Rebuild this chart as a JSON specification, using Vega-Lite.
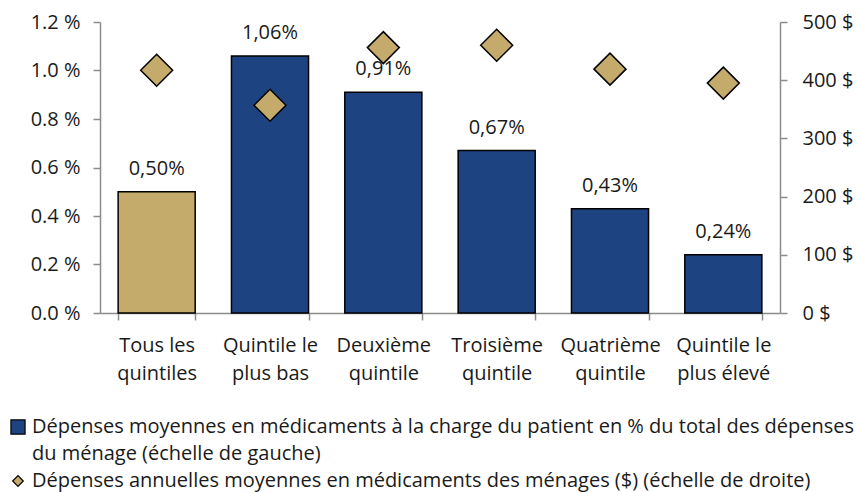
{
  "$schema": "https://vega.github.io/schema/vega-lite/v6.json",
  "autosize": "none",
  "width": 680,
  "height": 291,
  "padding": {"left": 100, "top": 22, "right": 77, "bottom": 179},
  "background": "white",
  "data": {
    "values": [
      {"categorie": "Tous les quintiles", "pct": 0.50, "dollars": 417},
      {"categorie": "Quintile le plus bas", "pct": 1.06, "dollars": 357},
      {"categorie": "Deuxième quintile", "pct": 0.91, "dollars": 456},
      {"categorie": "Troisième quintile", "pct": 0.67, "dollars": 460},
      {"categorie": "Quatrième quintile", "pct": 0.43, "dollars": 419},
      {"categorie": "Quintile le plus élevé", "pct": 0.24, "dollars": 395}
    ]
  },
  "encoding": {
    "x": {
      "field": "categorie",
      "type": "nominal",
      "sort": null,
      "scale": {"paddingInner": 0.32, "paddingOuter": 0.16},
      "axis": {
        "title": null,
        "labelAngle": 0,
        "tickBand": "extent",
        "labelPadding": 15,
        "labelLineHeight": 28,
        "labelBaseline": "top",
        "labelExpr": "datum.label == 'Tous les quintiles' ? ['Tous les', 'quintiles'] : datum.label == 'Quintile le plus bas' ? ['Quintile le', 'plus bas'] : datum.label == 'Deuxième quintile' ? ['Deuxième', 'quintile'] : datum.label == 'Troisième quintile' ? ['Troisième', 'quintile'] : datum.label == 'Quatrième quintile' ? ['Quatrième', 'quintile'] : datum.label == 'Quintile le plus élevé' ? ['Quintile le', 'plus élevé'] : ''"
      }
    }
  },
  "layer": [
    {
      "encoding": {
        "y": {
          "field": "pct",
          "type": "quantitative",
          "scale": {"domain": [0, 1.2], "nice": false},
          "axis": {
            "title": null,
            "values": [0, 0.2, 0.4, 0.6, 0.8, 1.0, 1.2],
            "labelExpr": "format(datum.value, '.1f') + ' %'",
            "labelPadding": 13
          }
        }
      },
      "layer": [
        {
          "mark": {"type": "bar", "stroke": "black", "strokeWidth": 1.5},
          "encoding": {
            "color": {
              "condition": {"test": "datum.categorie == 'Tous les quintiles'", "value": "#c4aa6b"},
              "datum": "Dépenses moyennes en médicaments à la charge du patient en % du total des dépenses du ménage (échelle de gauche)",
              "type": "nominal",
              "scale": {
                "domain": [
                  "Dépenses moyennes en médicaments à la charge du patient en % du total des dépenses du ménage (échelle de gauche)",
                  "Dépenses annuelles moyennes en médicaments des ménages ($) (échelle de droite)"
                ],
                "range": ["#1d4480", "#c4aa6b"]
              },
              "legend": {
                "title": null,
                "orient": "none",
                "legendX": -92,
                "legendY": 395,
                "direction": "vertical",
                "labelFont": "Open Sans",
                "labelFontSize": 20,
                "labelColor": "#1a1a1a",
                "labelLimit": 2000,
                "labelOffset": 4,
                "rowPadding": 7,
                "symbolSize": 200,
                "symbolStrokeColor": "black",
                "symbolStrokeWidth": 1.2,
                "symbolOpacity": 1,
                "labelExpr": "indexof(datum.label, 'gauche') >= 0 ? ['Dépenses moyennes en médicaments à la charge du patient en % du total des dépenses', 'du ménage (échelle de gauche)'] : datum.label",
                "encode": {
                  "symbols": {
                    "update": {
                      "shape": {"signal": "indexof(datum.value, 'gauche') >= 0 ? 'square' : 'M-0.75,0L0,-0.75L0.75,0L0,0.75Z'"}
                    }
                  },
                  "labels": {
                    "update": {
                      "lineHeight": {"value": 27}
                    }
                  }
                }
              }
            }
          }
        },
        {
          "transform": [
            {"calculate": "replace(format(datum.pct, '.2f'), '.', ',') + '%'", "as": "etiquette"}
          ],
          "mark": {"type": "text", "baseline": "alphabetic", "dy": -17, "font": "Open Sans", "fontSize": 20, "color": "#1a1a1a"},
          "encoding": {
            "text": {"field": "etiquette"}
          }
        }
      ]
    },
    {
      "mark": {"type": "point", "shape": "diamond", "filled": true, "size": 1024, "stroke": "black", "strokeWidth": 1.5, "opacity": 1},
      "encoding": {
        "y": {
          "field": "dollars",
          "type": "quantitative",
          "scale": {"domain": [0, 500], "nice": false},
          "axis": {
            "title": null,
            "orient": "right",
            "values": [0, 100, 200, 300, 400, 500],
            "labelExpr": "format(datum.value, 'd') + ' $'",
            "labelPadding": 15
          }
        },
        "color": {
          "datum": "Dépenses annuelles moyennes en médicaments des ménages ($) (échelle de droite)",
          "type": "nominal"
        }
      }
    }
  ],
  "resolve": {"scale": {"y": "independent"}},
  "config": {
    "view": {"stroke": null},
    "axis": {
      "grid": false,
      "domainColor": "#8c8c8c",
      "domainWidth": 1.5,
      "tickColor": "#8c8c8c",
      "tickWidth": 1.5,
      "tickSize": 7,
      "labelFont": "Open Sans",
      "labelFontSize": 20,
      "labelColor": "#1a1a1a"
    }
  }
}
